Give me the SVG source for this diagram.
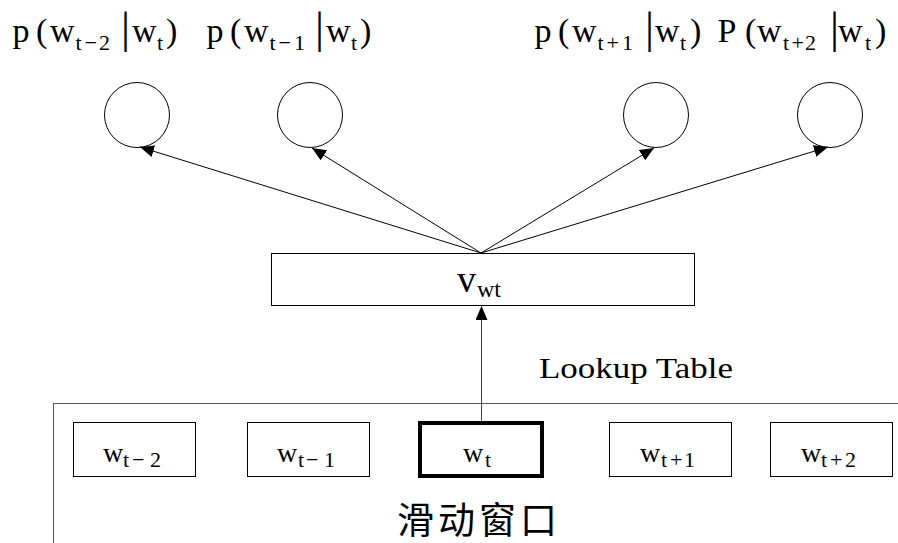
<svg xmlns="http://www.w3.org/2000/svg" width="898" height="543" viewBox="0 0 898 543">
<defs>
<style>
.t{font-family:"Liberation Serif","Times New Roman",serif;fill:#000}
.lbl{font-size:34px}
.sub{font-size:22px}
.bar{font-size:45px}
.bx{font-size:28px}
.bs{font-size:22px}
.mono{font-family:"Liberation Serif","Times New Roman",serif;font-size:30px;fill:#000}
.cjk{font-family:"Liberation Serif","Noto Sans CJK SC",sans-serif;font-size:37px;letter-spacing:4px;fill:#000}
.node{fill:#fff;stroke:#000;stroke-width:1}
.edge{stroke:#000;stroke-width:1;fill:none}
</style>
<marker id="ah" markerUnits="userSpaceOnUse" markerWidth="14" markerHeight="12" viewBox="0 0 14 12" refX="14" refY="6" orient="auto">
<path d="M0,0 L14,6 L0,12 Z" fill="#000"/>
</marker>
</defs>
<rect width="898" height="543" fill="#fff"/>

<g id="window-frame">
<rect x="53.5" y="403.5" width="900" height="200" fill="none" stroke="#555" stroke-width="1"/>
<text class="cjk" x="397" y="534">滑动窗口</text>
</g>

<g id="labels">
<g id="label-1" transform="translate(0,0)">
<text class="t lbl" y="42"><tspan x="12.5">p</tspan><tspan x="36">(</tspan><tspan x="50">w</tspan><tspan class="sub" x="75.5" y="50">t</tspan><tspan class="sub" x="84.5">−</tspan><tspan class="sub" x="99">2</tspan><tspan class="bar" x="121" y="43">|</tspan><tspan x="132" y="42">w</tspan><tspan class="sub" x="157" y="50">t</tspan><tspan x="166" y="42">)</tspan></text>
</g>
<g id="label-2" transform="translate(194,0)">
<text class="t lbl" y="42"><tspan x="12.5">p</tspan><tspan x="36">(</tspan><tspan x="50">w</tspan><tspan class="sub" x="75.5" y="50">t</tspan><tspan class="sub" x="84.5">−</tspan><tspan class="sub" x="100">1</tspan><tspan class="bar" x="121" y="43">|</tspan><tspan x="132" y="42">w</tspan><tspan class="sub" x="157" y="50">t</tspan><tspan x="166" y="42">)</tspan></text>
</g>
<g id="label-3" transform="translate(522,0)">
<text class="t lbl" y="42"><tspan x="12.5">p</tspan><tspan x="36">(</tspan><tspan x="50">w</tspan><tspan class="sub" x="75.5" y="50">t</tspan><tspan class="sub" x="84.5">+</tspan><tspan class="sub" x="100">1</tspan><tspan class="bar" x="123" y="43">|</tspan><tspan x="133" y="42">w</tspan><tspan class="sub" x="158" y="50">t</tspan><tspan x="168" y="42">)</tspan></text>
</g>
<g id="label-4" transform="translate(707,0)">
<text class="t lbl" y="42"><tspan x="10.5">P</tspan><tspan x="38">(</tspan><tspan x="50">w</tspan><tspan class="sub" x="76" y="50">t</tspan><tspan class="sub" x="84.5">+</tspan><tspan class="sub" x="98">2</tspan><tspan class="bar" x="123" y="43">|</tspan><tspan x="131" y="42">w</tspan><tspan class="sub" x="158" y="50">t</tspan><tspan x="168" y="42">)</tspan></text>
</g>
</g>

<g id="out-1"><circle class="node" cx="137" cy="115" r="32.5"/></g>
<g id="out-2"><circle class="node" cx="310" cy="115" r="32.5"/></g>
<g id="out-3"><circle class="node" cx="656" cy="115" r="32.5"/></g>
<g id="out-4"><circle class="node" cx="830" cy="115" r="32.5"/></g>

<g id="vwt">
<rect class="node" x="271.5" y="253.5" width="423" height="52"/>
<text class="t" y="292"><tspan x="457" style="font-size:38px">v</tspan><tspan x="477" y="297" style="font-size:24px">wt</tspan></text>
</g>

<g id="w-t-2">
<rect class="node" x="73.5" y="422.5" width="122" height="54"/>
<text class="t bx" y="462"><tspan x="103">w</tspan><tspan class="bs" x="123" y="467">t</tspan><tspan class="bs" x="132">−</tspan><tspan class="bs" x="150">2</tspan></text>
</g>
<g id="w-t-1">
<rect class="node" x="247.5" y="422.5" width="122" height="54"/>
<text class="t bx" y="462"><tspan x="277">w</tspan><tspan class="bs" x="298" y="467">t</tspan><tspan class="bs" x="306">−</tspan><tspan class="bs" x="324">1</tspan></text>
</g>
<g id="w-t">
<rect x="420" y="423" width="122" height="53" fill="#fff" stroke="#000" stroke-width="4"/>
<text class="t bx" y="462"><tspan x="463">w</tspan><tspan class="bs" x="485" y="467">t</tspan></text>
</g>
<g id="w-t+1">
<rect class="node" x="609.5" y="422.5" width="122" height="54"/>
<text class="t bx" y="462"><tspan x="640">w</tspan><tspan class="bs" x="661" y="467">t</tspan><tspan class="bs" x="670">+</tspan><tspan class="bs" x="684">1</tspan></text>
</g>
<g id="w-t+2">
<rect class="node" x="770.5" y="422.5" width="122" height="54"/>
<text class="t bx" y="462"><tspan x="801">w</tspan><tspan class="bs" x="821" y="467">t</tspan><tspan class="bs" x="830">+</tspan><tspan class="bs" x="845">2</tspan></text>
</g>

<g id="connectors">
<line class="edge" x1="481" y1="253" x2="140" y2="147" marker-end="url(#ah)"/>
<line class="edge" x1="481" y1="253" x2="312" y2="148" marker-end="url(#ah)"/>
<line class="edge" x1="481" y1="253" x2="654" y2="148" marker-end="url(#ah)"/>
<line class="edge" x1="481" y1="253" x2="828" y2="147" marker-end="url(#ah)"/>
<line x1="481.5" y1="421" x2="481.5" y2="306" stroke="#444" stroke-width="1" marker-end="url(#ah)"/>
<text class="mono" x="539" y="378" textLength="194" lengthAdjust="spacingAndGlyphs">Lookup Table</text>
</g>
</svg>
